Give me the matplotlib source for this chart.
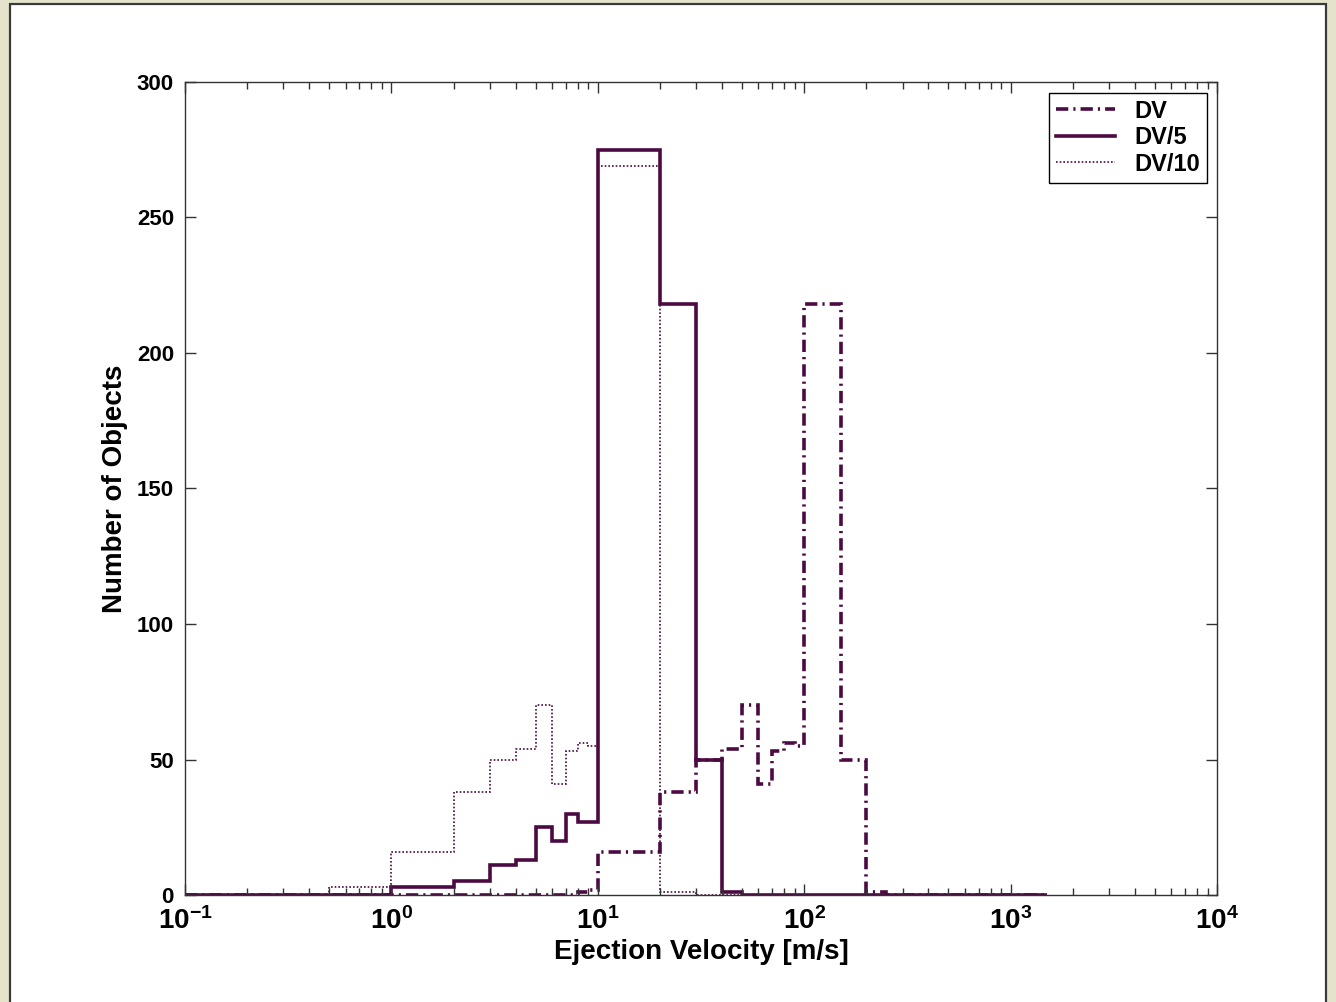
import math
import matplotlib
matplotlib.use("Agg")
import matplotlib.pyplot as plt
from matplotlib.patches import Rectangle
from matplotlib.ticker import LogLocator, FixedLocator, FuncFormatter, NullFormatter

plt.rcParams['font.family'] = ['Liberation Sans', 'DejaVu Sans']
plt.rcParams['font.weight'] = 'bold'
plt.rcParams['mathtext.fontset'] = 'custom'
plt.rcParams['mathtext.rm'] = 'Liberation Sans:bold'
plt.rcParams['mathtext.bf'] = 'Liberation Sans:bold'
plt.rcParams['mathtext.default'] = 'bf'

# histogram bins (m/s) and counts for each series
dv_edges = [0.1, 1, 2, 3, 4, 5, 6, 7, 8, 9, 10, 20, 30, 40, 50, 60, 70, 80, 90, 100, 150, 200, 250, 1500]
dv_counts = [0, 0, 0, 0, 0, 0, 0, 0, 1, 2, 16, 38, 50, 54, 70, 41, 53, 56, 55, 218, 50, 1, 0]

dv5_edges = [0.1, 1, 2, 3, 4, 5, 6, 7, 8, 9, 10, 20, 30, 40, 50, 1500]
dv5_counts = [0, 3, 5, 11, 13, 25, 20, 30, 27, 27, 275, 218, 50, 1, 0]

dv10_edges = [0.1, 0.5, 1, 2, 3, 4, 5, 6, 7, 8, 9, 10, 20, 30, 1500]
dv10_counts = [0, 3, 16, 38, 50, 54, 70, 41, 53, 56, 55, 269, 1, 0]

y_ticks = [0, 50, 100, 150, 200, 250, 300]

col = '#4c0a42'

fig = plt.figure(figsize=(13.36, 10.02), dpi=100)
fig.patch.set_facecolor('#e6e3cc')
# white panel with dark border like the matlab window
fig.patches.append(Rectangle((10 / 1336, -0.01), 1316 / 1336, 1 - 4 / 1002 + 0.01,
                             transform=fig.transFigure, facecolor='white',
                             edgecolor='#3a3a3a', linewidth=1.6, zorder=-10))

ax = fig.add_axes([185 / 1336, 107 / 1002, 1032 / 1336, 813 / 1002])

ax.stairs(dv_counts, dv_edges, baseline=None, color=col, linewidth=2.6,
          linestyle=(0, (3.4, 1.4, 0.6, 1.4)), label='DV')
ax.stairs(dv5_counts, dv5_edges, baseline=None, color=col, linewidth=2.6,
          linestyle='-', label='DV/5')
ax.stairs(dv10_counts, dv10_edges, baseline=None, color=col, linewidth=1.2,
          linestyle=(0, (1, 1.2)), label='DV/10')

ax.set_xscale('log')
ax.set_xlim(0.1, 1e4)
ax.set_ylim(0, 300)

ax.xaxis.set_major_locator(LogLocator(base=10, numticks=10))
ax.xaxis.set_minor_locator(LogLocator(base=10, subs=range(2, 10), numticks=20))
ax.xaxis.set_minor_formatter(NullFormatter())
ax.xaxis.set_major_formatter(FuncFormatter(lambda v, p: r'$10^{%d}$' % round(math.log10(v))))
ax.yaxis.set_major_locator(FixedLocator(y_ticks))

ax.tick_params(which='both', direction='in', top=True, right=True, colors='#333333',
               labelcolor='black', labelsize=16)
ax.tick_params(which='major', length=8, width=1)
ax.tick_params(which='minor', length=5, width=1)
ax.tick_params(axis='x', pad=9, labelsize=20)
ax.tick_params(axis='y', pad=8)
for s in ax.spines.values():
    s.set_color('#333333')
    s.set_linewidth(1)

ax.set_xlabel('Ejection Velocity [m/s]', fontsize=20, fontweight='bold', labelpad=3)
ax.set_ylabel('Number of Objects', fontsize=20, fontweight='bold', labelpad=6)

leg = ax.legend(loc='upper right', bbox_to_anchor=(0.9905, 0.987), fontsize=17,
                fancybox=False, framealpha=1, edgecolor='black', handlelength=2.5,
                borderpad=0.3, labelspacing=0.15, handletextpad=0.8, borderaxespad=0)
leg.get_frame().set_linewidth(1)

fig.savefig('out.png', dpi=100, facecolor=fig.get_facecolor())
